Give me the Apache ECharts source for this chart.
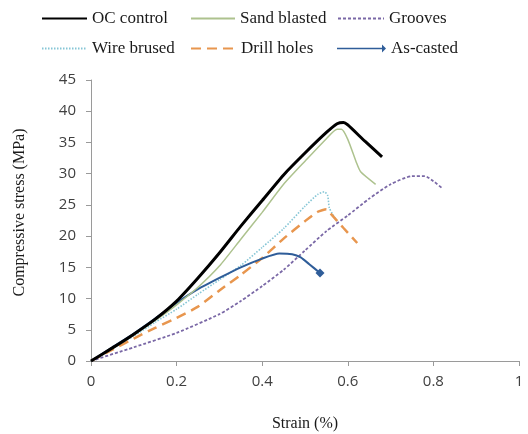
<!DOCTYPE html>
<html>
<head>
<meta charset="utf-8">
<script src="https://cdn.jsdelivr.net/npm/echarts@6/dist/echarts.min.js"></script>
<style>html,body{margin:0;padding:0;background:#fff}#c{width:528px;height:434px}</style>
</head>
<body>
<div id="c"></div>
<script>
var xTicks = [0, 0.2, 0.4, 0.6, 0.8, 1];
var yTicks = [0, 5, 10, 15, 20, 25, 30, 35, 40, 45];
var seriesNames = ['OC control', 'Sand blasted', 'Grooves', 'Wire brused', 'Drill holes', 'As-casted'];

var ocControl = [[0,0],[0.05,2.1],[0.1,4.3],[0.15,6.7],[0.2,9.6],[0.25,13.3],[0.3,17.3],[0.35,21.6],[0.4,25.7],[0.45,29.8],[0.5,33.3],[0.55,36.6],[0.575,38.0],[0.59,38.2],[0.6,37.8],[0.64,35.2],[0.68,32.7]];
var sandBlasted = [[0,0],[0.05,2.0],[0.1,4.2],[0.15,6.5],[0.2,9.0],[0.25,11.8],[0.3,15.2],[0.35,19.5],[0.4,23.8],[0.45,28.3],[0.5,32.0],[0.55,35.6],[0.575,37.1],[0.585,37.1],[0.6,35.5],[0.62,31.8],[0.63,30.3],[0.665,28.3]];
var grooves = [[0,0],[0.1,2.2],[0.2,4.5],[0.3,7.5],[0.35,9.6],[0.4,12.0],[0.45,14.6],[0.5,17.7],[0.55,20.8],[0.6,23.3],[0.65,26.0],[0.7,28.3],[0.75,29.6],[0.78,29.6],[0.8,28.8],[0.82,27.7]];
var wireBrused = [[0,0],[0.05,2.0],[0.1,4.0],[0.15,6.2],[0.2,8.3],[0.25,10.7],[0.3,13.0],[0.35,15.3],[0.4,18.2],[0.45,21.2],[0.5,24.8],[0.53,26.7],[0.545,27.1],[0.553,26.5],[0.557,24.5],[0.575,22.3]];
var drillHoles = [[0,0],[0.05,1.8],[0.1,3.6],[0.15,5.3],[0.2,6.9],[0.25,8.7],[0.3,11.3],[0.35,13.8],[0.4,16.5],[0.45,19.6],[0.5,22.4],[0.53,23.9],[0.55,24.3],[0.56,23.6],[0.59,21.3],[0.622,18.9]];
var asCasted = [[0,0],[0.05,2.2],[0.1,4.4],[0.15,6.8],[0.2,9.3],[0.25,11.5],[0.3,13.3],[0.35,15.0],[0.4,16.4],[0.44,17.2],[0.47,17.1],[0.49,16.6],[0.51,15.5],[0.535,14.1]];

var colors = ['#000000', '#adc28e', '#7a68a6', '#86c6d6', '#e8964e', '#2f5d99'];

function legendAt(name, left, top, width, icon) {
  var l = {
    data: [name], left: left, top: top, itemWidth: width, itemHeight: 14, itemGap: 0,
    textStyle: {fontFamily: 'Liberation Serif', fontSize: 17, color: '#1a1a1a'},
    selectedMode: false
  };
  if (icon) { l.icon = icon; } else { l.itemStyle = {opacity: 0}; }
  return l;
}

var asData = asCasted.map(function (p, i) {
  if (i === asCasted.length - 1) return {value: p, symbol: 'diamond', symbolSize: 9};
  return {value: p};
});

var option = {
  animation: false,
  color: colors,
  legend: [
    legendAt(seriesNames[0], 36, 5, 45),
    legendAt(seriesNames[1], 185, 5, 44),
    legendAt(seriesNames[2], 332, 5, 46),
    legendAt(seriesNames[3], 36, 35, 45),
    legendAt(seriesNames[4], 185, 35, 45),
    legendAt(seriesNames[5], 332, 35, 49, 'path://M0,6.2L45,6.2L45,3L49,7L45,11L45,7.8L0,7.8Z')
  ],
  grid: {left: 91, right: 9, top: 80, bottom: 73, outerBoundsMode: 'none', containLabel: false},
  xAxis: {
    type: 'value', min: 0, max: 1, interval: 0.2,
    name: 'Strain (%)', nameLocation: 'middle', nameGap: 55,
    nameTextStyle: {fontFamily: 'Liberation Serif', fontSize: 16, color: '#1a1a1a'},
    axisLine: {show: true, lineStyle: {color: '#9a9a9a', width: 1}},
    axisTick: {show: true, length: 5, lineStyle: {color: '#9a9a9a'}},
    axisLabel: {margin: 13, fontFamily: 'Open Sans', fontSize: 15, color: '#404040',
      formatter: function (v) { return xTicks.indexOf(Math.round(v * 10) / 10) >= 0 ? String(Math.round(v * 10) / 10) : ''; }},
    splitLine: {show: false}
  },
  yAxis: {
    type: 'value', min: 0, max: 45, interval: 5,
    name: 'Compressive stress (MPa)', nameLocation: 'middle', nameGap: 63,
    nameTextStyle: {fontFamily: 'Liberation Serif', fontSize: 16, color: '#1a1a1a', padding: [0, 0, 0, 16]},
    axisLine: {show: true, lineStyle: {color: '#9a9a9a', width: 1}},
    axisTick: {show: true, length: 5, lineStyle: {color: '#9a9a9a'}},
    axisLabel: {margin: 15, fontFamily: 'Open Sans', fontSize: 15, color: '#404040',
      formatter: function (v) { return yTicks.indexOf(v) >= 0 ? String(v) : ''; }},
    splitLine: {show: false}
  },
  series: [
    {name: seriesNames[0], type: 'line', data: ocControl, symbol: 'none', smooth: 0.2,
      lineStyle: {color: colors[0], width: 3}, z: 6},
    {name: seriesNames[1], type: 'line', data: sandBlasted, symbol: 'none', smooth: 0.2,
      lineStyle: {color: colors[1], width: 1.5}, z: 5},
    {name: seriesNames[2], type: 'line', data: grooves, symbol: 'none', smooth: 0.2,
      lineStyle: {color: colors[2], width: 1.8, type: [3, 2]}, z: 4},
    {name: seriesNames[3], type: 'line', data: wireBrused, symbol: 'none', smooth: 0.2,
      lineStyle: {color: colors[3], width: 1.6, type: [1.5, 1.5]}, z: 3},
    {name: seriesNames[4], type: 'line', data: drillHoles, symbol: 'none', smooth: 0.2,
      lineStyle: {color: colors[4], width: 2.5, type: [10, 6]}, z: 3},
    {name: seriesNames[5], type: 'line', data: asData, symbol: 'none', showSymbol: true, smooth: 0.2,
      itemStyle: {color: colors[5]},
      lineStyle: {color: colors[5], width: 2}, z: 4}
  ]
};
var chart = echarts.init(document.getElementById('c'), null, {renderer: 'canvas'});
chart.setOption(option);
</script>
</body>
</html>
